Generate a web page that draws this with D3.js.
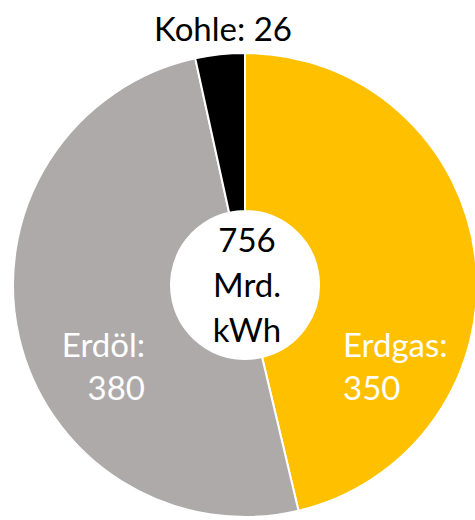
<!DOCTYPE html>
<html>
<head>
  <meta charset="utf-8">
  <script src="https://d3js.org/d3.v7.min.js"></script>
  <style>
    body { margin: 0; background: #fff; }
    text { font-family: Lato, "Open Sans", sans-serif; }
  </style>
</head>
<body>
  <svg width="475" height="520"></svg>
  <script>
    const labels = ['Erdgas', 'Erdöl', 'Kohle'];
    const values = [350, 380, 26];
    const colors = ['#FFC000', '#AEAAAA', '#000000'];
    const total = d3.sum(values);

    const svg = d3.select('svg');
    const cx = 245, cy = 285, outerR = 232, innerR = 74;
    const fs = 33;

    const g = svg.append('g')
      .attr('transform', `translate(${cx},${cy})`);

    const pie = d3.pie().sort(null).value(d => d.value);
    const arc = d3.arc().innerRadius(innerR).outerRadius(outerR);

    const data = labels.map((l, i) => ({ label: l, value: values[i], color: colors[i] }));
    const arcs = pie(data);

    g.selectAll('path').data(arcs)
      .enter().append('path')
      .attr('d', arc)
      .attr('fill', d => d.data.color)
      .attr('stroke', '#fff')
      .attr('stroke-width', 2);

    // center total
    const center = g.append('text')
      .attr('text-anchor', 'middle')
      .attr('font-size', fs)
      .attr('fill', '#000');
    ['' + total, 'Mrd.', 'kWh'].forEach((t, i) => {
      center.append('tspan').attr('x', 2).attr('y', -33 + i * 45).text(t);
    });

    // Erdgas label (white, left aligned)
    const gas = g.append('text')
      .attr('font-size', fs).attr('fill', '#fff').attr('text-anchor', 'start');
    gas.append('tspan').attr('x', 98).attr('y', 72).text(labels[0] + ':');
    gas.append('tspan').attr('x', 98).attr('y', 115).text(values[0]);

    // Erdöl label (white, right aligned)
    const oil = g.append('text')
      .attr('font-size', fs).attr('fill', '#fff').attr('text-anchor', 'end');
    oil.append('tspan').attr('x', -100).attr('y', 72).text(labels[1] + ':');
    oil.append('tspan').attr('x', -100).attr('y', 115).text(values[1]);

    // Kohle label outside
    svg.append('text')
      .attr('x', 223).attr('y', 41)
      .attr('text-anchor', 'middle')
      .attr('font-size', fs)
      .attr('fill', '#000')
      .text(labels[2] + ': ' + values[2]);
  </script>
</body>
</html>
